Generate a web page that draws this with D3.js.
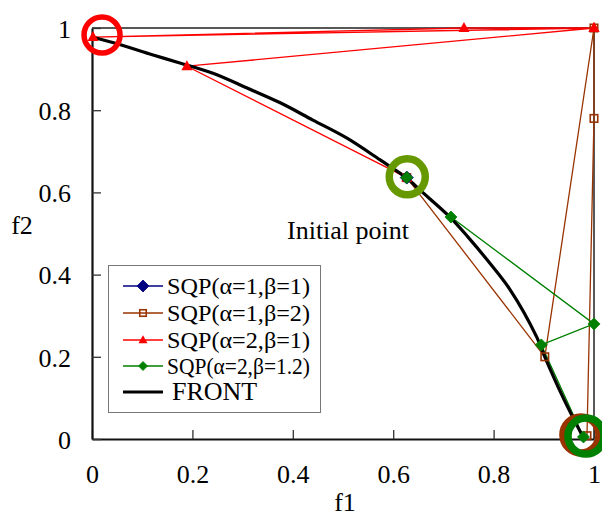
<!DOCTYPE html>
<html>
<head>
<meta charset="utf-8">
<script src="https://cdn.jsdelivr.net/npm/d3@7"></script>
<style>
  html, body { margin: 0; padding: 0; background: #fff; }
  svg { display: block; }
  text { font-family: "Liberation Serif", "Times New Roman", serif; fill: #000; }
</style>
</head>
<body>
<svg id="chart" width="602" height="518"></svg>
<script>
// ---- data ----
const xTicks = [0, 0.2, 0.4, 0.6, 0.8, 1];
const yTicks = [0, 0.2, 0.4, 0.6, 0.8, 1];
const xTickLabels = ["0", "0.2", "0.4", "0.6", "0.8", "1"];
const yTickLabels = ["0", "0.2", "0.4", "0.6", "0.8", "1"];

const sqp11 = [[0.627, 0.636]];
const sqp12 = [[0.627, 0.636], [0.902, 0.200], [1.0, 1.0], [1.0, 0.78], [0.986, 0.008]];
const sqp21 = [[0.627, 0.636], [0.189, 0.907], [1.0, 1.0], [0.002, 0.978], [0.741, 1.0], [1.0, 1.0]];
const sqp212 = [[0.627, 0.636], [0.715, 0.540], [1.0, 0.280], [0.895, 0.229], [0.979, 0.005]];
const front = [[0.0, 0.978], [0.06, 0.958], [0.12, 0.935], [0.175, 0.915], [0.241, 0.890], [0.309, 0.854],
  [0.375, 0.818], [0.44, 0.776], [0.508, 0.732], [0.574, 0.679], [0.627, 0.635], [0.653, 0.606],
  [0.713, 0.540], [0.75, 0.49], [0.787, 0.436], [0.833, 0.363], [0.886, 0.248], [0.902, 0.200],
  [0.938, 0.102], [0.978, 0.005]];

const seriesNames = ["SQP(\u03b1=1,\u03b2=1)", "SQP(\u03b1=1,\u03b2=2)", "SQP(\u03b1=2,\u03b2=1)", "SQP(\u03b1=2,\u03b2=1.2)", "FRONT"];
const seriesColors = ["#000080", "#993300", "#ff0000", "#008000", "#000000"];

// highlight rings: [x, y]
const ringPoints = [[0.02, 0.983], [0.628, 0.638], [0.974, 0.010], [0.984, 0.007]];
const ringColors = ["#ff0000", "#669900", "#993300", "#008000"];

// ---- layout ----
const svg = d3.select("#chart");
const x = d3.scaleLinear().domain([0, 1]).range([92, 594]);
const y = d3.scaleLinear().domain([0, 1]).range([439, 28]);

// frame (top and right)
svg.append("path")
  .attr("d", `M${x(0)},${y(1)}H${x(1)}V${y(0)}`)
  .attr("fill", "none").attr("stroke", "#222").attr("stroke-width", 1.5);

// axes
const xAxis = svg.append("g").attr("transform", `translate(0,${y(0)})`)
  .call(d3.axisBottom(x).tickValues(xTicks).tickFormat((d, i) => xTickLabels[i]).tickSizeInner(-9).tickSizeOuter(0).tickPadding(24));
const yAxis = svg.append("g").attr("transform", `translate(${x(0)},0)`)
  .call(d3.axisLeft(y).tickValues(yTicks).tickFormat((d, i) => yTickLabels[i]).tickSizeInner(-9).tickSizeOuter(0).tickPadding(21));
[xAxis, yAxis].forEach(g => {
  g.select(".domain").attr("stroke", "#111").attr("stroke-width", 2.2);
  g.selectAll(".tick line").attr("stroke", "#333").attr("stroke-width", 1.3);
  g.selectAll(".tick text").attr("font-size", 26).attr("font-family", "Liberation Serif").attr("fill", "#000");
});
yAxis.selectAll(".tick text").attr("dy", "0.36em");
xAxis.selectAll(".tick text").attr("dy", "0.75em");

svg.append("text").attr("x", 345).attr("y", 511).attr("text-anchor", "middle").attr("font-size", 26).text("f1");
svg.append("text").attr("x", 22).attr("y", 234).attr("text-anchor", "middle").attr("font-size", 26).text("f2");

// ---- series lines ----
const line = d3.line().x(d => x(d[0])).y(d => y(d[1]));
const allSeries = [sqp11, sqp12, sqp21, sqp212];
const drawOrder = [1, 2, 3, 0];
drawOrder.forEach(i => {
  svg.append("path").datum(allSeries[i]).attr("d", line)
    .attr("fill", "none").attr("stroke", seriesColors[i]).attr("stroke-width", 1.3);
});
svg.append("path").datum(front).attr("d", line.curve(d3.curveCatmullRom))
  .attr("fill", "none").attr("stroke", "#000").attr("stroke-width", 3.2).attr("stroke-linejoin", "round");

// ---- markers ----
function diamond(g, cx, cy, h, color) {
  g.append("path").attr("d", `M${cx},${cy - h}L${cx + h},${cy}L${cx},${cy + h}L${cx - h},${cy}Z`)
    .attr("fill", color).attr("stroke", color).attr("stroke-width", 0.8);
}
function square(g, cx, cy, s, color) {
  g.append("rect").attr("x", cx - s / 2).attr("y", cy - s / 2).attr("width", s).attr("height", s)
    .attr("fill", "none").attr("stroke", color).attr("stroke-width", 1.6);
}
function triangle(g, cx, cy, w, color) {
  const h = w * 0.9;
  g.append("path").attr("d", `M${cx},${cy - h * 0.6}L${cx + w / 2},${cy + h * 0.4}L${cx - w / 2},${cy + h * 0.4}Z`)
    .attr("fill", color);
}
const mk = svg.append("g");
sqp12.forEach(d => square(mk, x(d[0]), y(d[1]), 7.5, seriesColors[1]));
sqp21.forEach(d => triangle(mk, x(d[0]), y(d[1]), 11, seriesColors[2]));
sqp11.forEach(d => diamond(mk, x(d[0]), y(d[1]), 6.5, seriesColors[0]));
sqp212.forEach(d => diamond(mk, x(d[0]), y(d[1]), 6, seriesColors[3]));

// ---- rings ----
ringPoints.forEach((p, i) => {
  svg.append("circle").attr("cx", x(p[0])).attr("cy", y(p[1])).attr("r", i === 0 ? 18 : 18)
    .attr("fill", "none").attr("stroke", ringColors[i]).attr("stroke-width", i === 0 ? 5.5 : 7.5);
});

// ---- annotation ----
svg.append("text").attr("x", 287).attr("y", 239).attr("font-size", 26).text("Initial point");

// ---- legend ----
const lg = svg.append("g");
lg.append("rect").attr("x", 108.5).attr("y", 265.5).attr("width", 212).attr("height", 147)
  .attr("fill", "#fff").attr("stroke", "#777").attr("stroke-width", 1);
const rowY = [286, 313, 340, 366, 392];
seriesNames.forEach((name, i) => {
  const cy = rowY[i];
  lg.append("line").attr("x1", 123).attr("x2", 163).attr("y1", cy).attr("y2", cy)
    .attr("stroke", seriesColors[i]).attr("stroke-width", i === 4 ? 3.2 : 1.3);
  if (i === 0) diamond(lg, 143, cy, 6, seriesColors[0]);
  if (i === 1) square(lg, 143, cy, 6.5, seriesColors[1]);
  if (i === 2) triangle(lg, 143, cy, 9, seriesColors[2]);
  if (i === 3) diamond(lg, 143, cy, 4.5, seriesColors[3]);
  const t = lg.append("text").attr("x", i === 4 ? 172 : 167).attr("y", cy + 8)
    .attr("font-size", i === 4 ? 26 : 24).text(name);
  if (i < 4) t.attr("textLength", 143).attr("lengthAdjust", "spacingAndGlyphs");
});
</script>
</body>
</html>
